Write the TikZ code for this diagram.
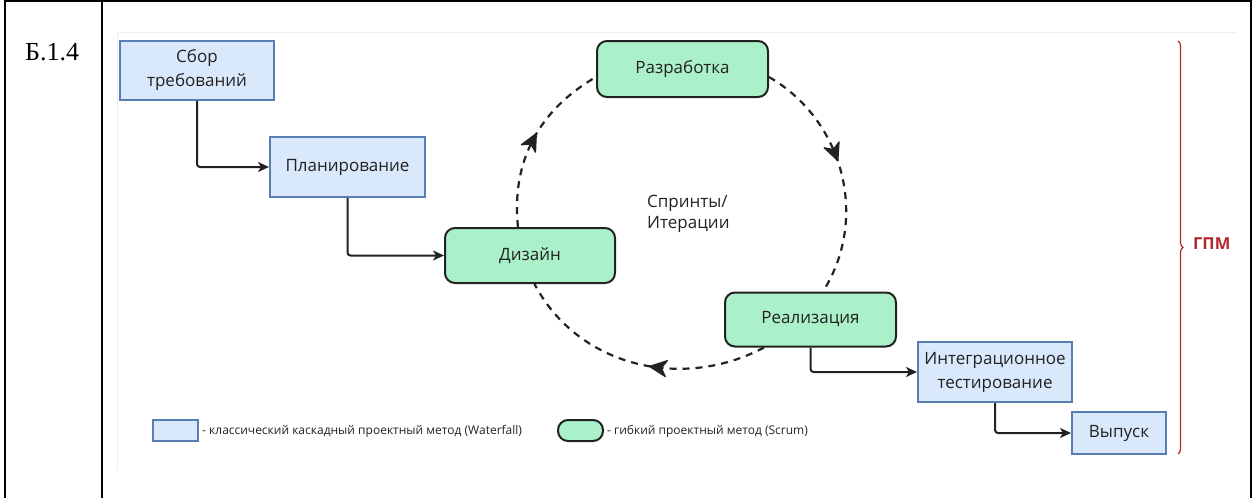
\documentclass[tikz,border=0pt]{standalone}
\usepackage{fontspec}
\setmainfont{Liberation Serif}
\newfontfamily\diagfont{Open Sans}
\usetikzlibrary{arrows.meta,decorations.markings,decorations.pathreplacing,calc}

\definecolor{wfFill}{HTML}{DAE8FC}
\definecolor{wfLine}{HTML}{5A7DB5}
\definecolor{agFill}{HTML}{AAF0C8}
\definecolor{inkDark}{HTML}{222222}
\definecolor{gpmRed}{HTML}{B3262C}
\definecolor{panelEdge}{HTML}{EEEEEE}

\begin{document}
\begin{tikzpicture}[x=1pt,y=1pt,
  boxfont/.style={font=\diagfont\fontsize{17}{24}\selectfont},
  wfbox/.style={draw=wfLine, fill=wfFill, line width=2pt, boxfont,
    text=inkDark, align=center, inner sep=0pt},
  agbox/.style={draw=inkDark, fill=agFill, line width=2pt, rounded corners=10pt,
    boxfont, text=inkDark, align=center, inner sep=0pt},
  flow/.style={draw=inkDark, line width=2pt, rounded corners=3pt,
    -{Stealth[length=11pt,width=10pt,inset=3pt]}},
  sprint/.style={draw=inkDark, line width=2.2pt, dash pattern=on 7pt off 6pt,
    decoration={markings, mark=at position #1 with
      {\filldraw[inkDark, solid, line width=1.2pt, line join=round]
        (7pt,0pt) -- (-10pt,8pt) -- (-5pt,0pt) -- (-10pt,-8pt) -- cycle;}},
    postaction={decorate}},
  legendtext/.style={anchor=west, inner sep=0pt,
    font=\diagfont\fontsize{12}{14}\selectfont, text=inkDark},
]
\useasboundingbox (0,0) rectangle (1259,-498);

% table frame
\draw[line width=2pt] (5,-498) -- (5,-1) -- (1251,-1) -- (1251,-498);
\draw[line width=2pt] (102,-1) -- (102,-498);
\node[anchor=base west, inner sep=0pt, font=\fontsize{26}{30}\selectfont] (lbl) at (25,-60) {Б.1.4};

% faint edge of the drawing panel
\draw[panelEdge, line width=1pt] (117,-470) -- (117,-32) -- (1236,-32);

% waterfall steps and sprint stages
\node[wfbox, minimum width=154pt, minimum height=59pt] (sb) at (197,-70.5) {Сбор\\требований};
\node[wfbox, minimum width=155pt, minimum height=60pt] (pl) at (347.5,-167) {Планирование};
\node[agbox, minimum width=170pt, minimum height=55pt] (dz) at (530,-255.5) {Дизайн};
\node[agbox, minimum width=171pt, minimum height=56pt] (rz) at (682.5,-69) {Разработка};
\node[agbox, minimum width=171pt, minimum height=54pt] (re) at (810.5,-319.5) {Реализация};
\node[wfbox, minimum width=154pt, minimum height=60pt] (it) at (995,-372) {Интеграционное\\тестирование};
\node[wfbox, minimum width=94pt, minimum height=42pt] (vy) at (1119,-433) {Выпуск};

\node[anchor=north west, align=left, inner sep=0pt, text=inkDark,
  font=\diagfont\fontsize{17}{21}\selectfont] (spr) at (647,-195) {Спринты/\\Итерации};

% waterfall connectors
\draw[flow] (sb.south) |- (pl.west);
\draw[flow] (pl.south) |- (dz.west);
\draw[flow] (re.south) |- (it.west);
\draw[flow] (it.south) |- (vy.west);

% sprint cycle
\draw[sprint=0.5] ([xshift=-12pt]dz.north) to[out=96,in=210] ([yshift=-8pt]rz.west);
\draw[sprint=0.42] ([yshift=-8pt]rz.east) to[out=-30,in=57.6] ([xshift=12.5pt]re.north);
\draw[sprint=0.42] ([xshift=-46.5pt]re.south) to[out=208,in=297.7] ([xshift=4.5pt]dz.south);

% legend
\node[wfbox, minimum width=45pt, minimum height=21pt] (lgw) at (175.5,-430.5) {};
\node[legendtext] (lgwt) at (202,-431) {- классический каскадный проектный метод (Waterfall)};
\node[agbox, minimum width=45pt, minimum height=21pt] (lga) at (580.5,-430.5) {};
\node[legendtext] (lgat) at (607,-431) {- гибкий проектный метод (Scrum)};

% bracket with label
\coordinate (bt) at (1178,-41);
\coordinate (bb) at (1178,-454);
\draw[gpmRed, line width=1.2pt, decorate, decoration={brace, amplitude=5pt}] (bt) -- (bb);
\node[anchor=west, inner sep=0pt, text=gpmRed,
  font=\diagfont\bfseries\fontsize{16.5}{19}\selectfont] (gpm) at (1193,-244) {ГПМ};
\end{tikzpicture}
\end{document}
